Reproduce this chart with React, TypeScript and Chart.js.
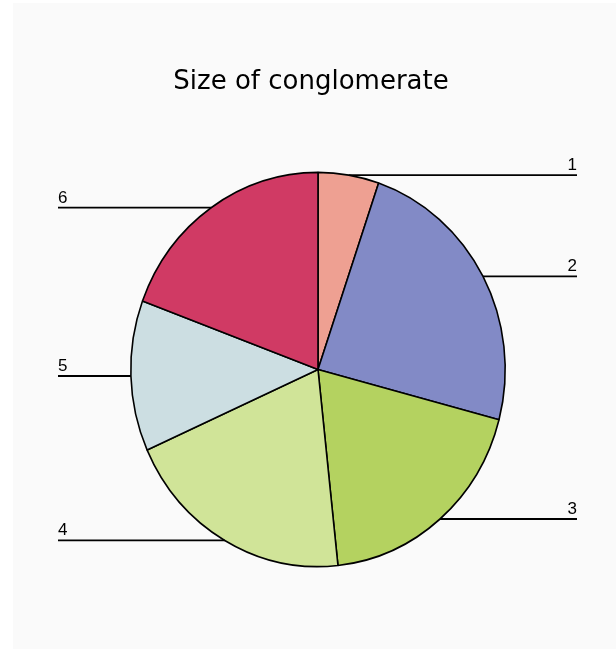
import React, { useEffect, useRef } from "react";
import { Chart, registerables } from "chart.js";

Chart.register(...registerables);

const TITLE = "Size of conglomerate";
const labels = ["1", "2", "3", "4", "5", "6"];
const values = [5.25, 23.85, 19.2, 20.0, 12.35, 19.35];
const colors = ["#eea092", "#828ac6", "#b4d260", "#d0e498", "#ccdee2", "#d03a64"];

const W = 616;
const H = 649;
const SY = 1.053; // vertical stretch of the pie in the reference

const decorPlugin = {
  id: "decor",
  beforeDraw(chart: any) {
    const ctx = chart.ctx;
    ctx.save();
    ctx.fillStyle = "#ffffff";
    ctx.fillRect(0, 0, W, H);
    ctx.fillStyle = "#fafafa";
    ctx.fillRect(13, 3, W - 13, H - 3);
    ctx.fillStyle = "#000";
    ctx.font = '26px "DejaVu Sans", sans-serif';
    ctx.textAlign = "center";
    ctx.textBaseline = "alphabetic";
    ctx.fillText(TITLE, 311, 89);
    ctx.restore();
  },
  beforeDatasetsDraw(chart: any) {
    const meta = chart.getDatasetMeta(0);
    const arc = meta.data[0];
    const ctx = chart.ctx;
    ctx.save();
    ctx.translate(arc.x, arc.y);
    ctx.scale(1, SY);
    ctx.translate(-arc.x, -arc.y);
  },
  afterDatasetsDraw(chart: any) {
    const ctx = chart.ctx;
    ctx.restore();
    const meta = chart.getDatasetMeta(0);
    ctx.save();
    ctx.strokeStyle = "#000";
    ctx.lineWidth = 1.8;
    ctx.fillStyle = "#000";
    ctx.font = '17px "Liberation Sans", Arial, sans-serif';
    ctx.textBaseline = "alphabetic";
    meta.data.forEach((a: any, i: number) => {
      const mid = (a.startAngle + a.endAngle) / 2;
      const px = a.x + Math.cos(mid) * a.outerRadius;
      const py = a.y + Math.sin(mid) * a.outerRadius * SY;
      const left = Math.cos(mid) < 0;
      const ex = left ? 58 : 577;
      ctx.beginPath();
      ctx.moveTo(px, py);
      ctx.lineTo(ex, py);
      ctx.stroke();
      ctx.textAlign = left ? "left" : "right";
      ctx.fillText(chart.data.labels[i], ex, py - 5);
    });
    ctx.restore();
  },
};

export default function App() {
  const ref = useRef<HTMLCanvasElement | null>(null);
  useEffect(() => {
    document.body.style.margin = "0";
    const canvas = ref.current!;
    const chart = new Chart(canvas, {
      type: "pie",
      data: {
        labels,
        datasets: [
          {
            data: values,
            backgroundColor: colors,
            borderColor: "#000",
            borderWidth: 1.6,
          },
        ],
      },
      options: {
        responsive: false,
        animation: false,
        events: [],
        layout: { padding: { left: 130, right: 110, top: 181.5, bottom: 91.5 } },
        plugins: {
          legend: { display: false },
          title: { display: false },
          tooltip: { enabled: false },
        },
      },
      plugins: [decorPlugin],
    });
    return () => chart.destroy();
  }, []);
  return <canvas ref={ref} width={W} height={H} style={{ display: "block", width: W, height: H }} />;
}
